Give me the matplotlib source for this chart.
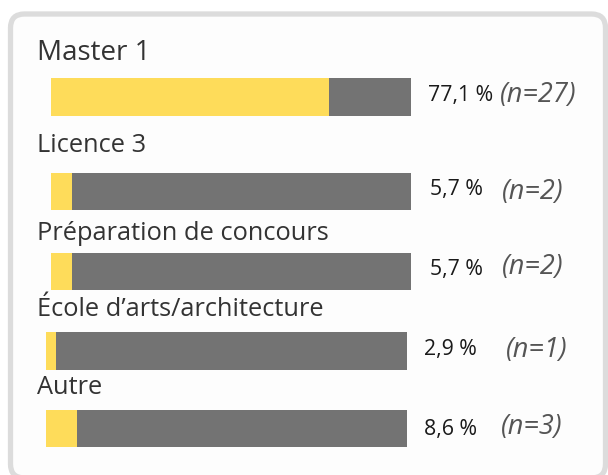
import matplotlib
matplotlib.use("Agg")
import matplotlib.pyplot as plt
from matplotlib.patches import FancyBboxPatch

# --- data ---
categories = ["Master 1", "Licence 3", "Préparation de concours",
              "École d’arts/architecture", "Autre"]
percents = [77.1, 5.7, 5.7, 2.9, 8.6]
counts = [27, 2, 2, 1, 3]

# --- layout (pixels in a 608x475 canvas) ---
W, H = 608, 475
label_y = [53, 146, 233, 310, 388]
label_size = [20, 18.3, 18.3, 18.3, 18.3]
bar_rects = [(51, 78, 360, 38), (51, 173, 360, 37), (51, 253, 360, 37),
             (46, 332, 361, 38), (46, 410, 361, 37)]
pct_pos = [(428, 96), (430, 189), (430, 270), (424, 350), (424, 429)]
n_pos = [(500, 95), (502, 192), (502, 267), (506, 350), (501, 427)]

YELLOW = "#fedc5a"
GRAY = "#737373"
TEXT = "#333333"
FONT = "Open Sans"

fig = plt.figure(figsize=(W / 100, H / 100), dpi=100)
fig.patch.set_facecolor("white")


def fx(x):
    return x / W


def fy(y):
    return 1 - y / H


# card background, drawn in a pixel-unit background axes
bg = fig.add_axes([0, 0, 1, 1], zorder=-1)
bg.set_xlim(0, W)
bg.set_ylim(H, 0)
bg.axis("off")
bg.add_patch(FancyBboxPatch((10.5, 14), 595, 464,
                            boxstyle="round,pad=0,rounding_size=14",
                            facecolor="#fdfdfd", edgecolor="#dcdcdc",
                            linewidth=3.8))

for i, cat in enumerate(categories):
    fig.text(fx(37), fy(label_y[i]), cat, fontsize=label_size[i], color=TEXT,
             family=FONT, va="center", ha="left")

    x, y, w, h = bar_rects[i]
    ax = fig.add_axes([fx(x), fy(y + h), w / W, h / H])
    ax.barh(0, percents[i], height=1, color=YELLOW, left=0)
    ax.barh(0, 100 - percents[i], height=1, color=GRAY, left=percents[i])
    ax.set_xlim(0, 100)
    ax.set_ylim(-0.5, 0.5)
    ax.axis("off")

    px, py = pct_pos[i]
    fig.text(fx(px), fy(py), f"{percents[i]:.1f} %".replace(".", ","),
             fontsize=15.3, color="#1a1a1a", family=FONT, va="center", ha="left")
    nx, ny = n_pos[i]
    fig.text(fx(nx), fy(ny), f"(n={counts[i]})", fontsize=19.5, color="#555555",
             family=FONT, style="italic", va="center", ha="left")

fig.savefig("out.png", dpi=100)
